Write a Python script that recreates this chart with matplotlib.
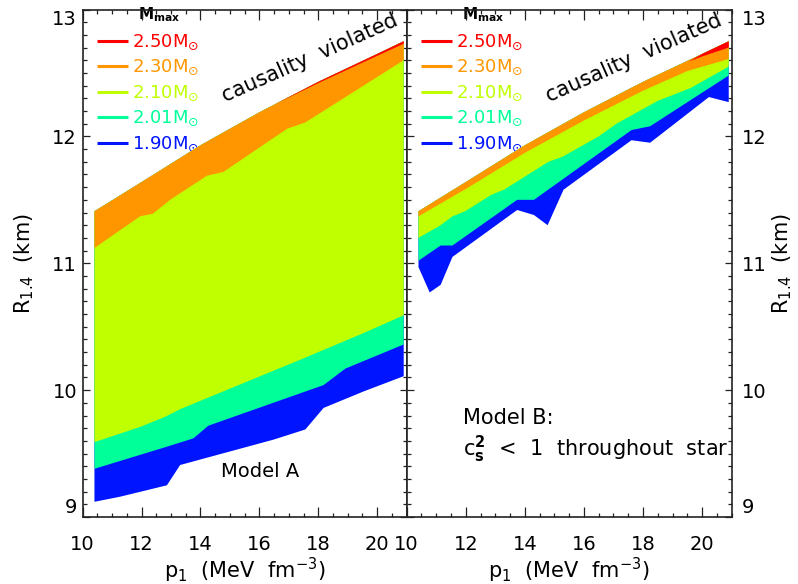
import numpy as np
import matplotlib.pyplot as plt
from matplotlib.ticker import MultipleLocator

# causality limit, top edge of every band (same in both models)
caus_p = [10.4, 12.0, 14.0, 16.0, 18.0, 20.0, 20.9]
caus_r = [11.41, 11.64, 11.93, 12.19, 12.43, 12.65, 12.75]

masses = ['2.50', '2.30', '2.10', '2.01', '1.90']
colors = ['#ff0000', '#ff9600', '#bfff00', '#00ff99', '#0014ff']

# Model A: lower edge of the allowed region for each M_max
a_p = {
    '2.50': [16.5, 18.0, 20.0, 20.9],
    '2.30': [10.4, 11.95, 12.38, 12.97, 14.22, 14.78, 16.94, 17.56, 20.9],
    '2.10': [10.4, 11.95, 12.8, 13.31, 17.39, 19.54, 20.9],
    '2.01': [10.4, 11.95, 12.8, 13.76, 14.27, 18.18, 18.92, 20.9],
    '1.90': [10.4, 11.27, 12.86, 13.31, 16.48, 17.56, 18.18, 19.54, 20.9],
}
a_r = {
    '2.50': [12.25, 12.42, 12.635, 12.73],
    '2.30': [11.12, 11.37, 11.39, 11.50, 11.69, 11.72, 12.06, 12.11, 12.60],
    '2.10': [9.59, 9.71, 9.79, 9.85, 10.24, 10.45, 10.59],
    '2.01': [9.38, 9.49, 9.55, 9.62, 9.72, 10.04, 10.17, 10.36],
    '1.90': [9.12, 9.16, 9.25, 9.41, 9.61, 9.69, 9.86, 9.99, 10.11],
}

# Model B: c_s^2 < 1 throughout the star
b_p = {
    '2.50': [19.55, 20.0, 20.9],
    '2.30': [10.4, 12.0, 14.0, 16.0, 18.0, 19.5, 20.9],
    '2.10': [10.4, 11.15, 11.55, 11.98, 12.87, 13.3, 14.8, 15.28, 16.5, 17.1, 18.5, 19.6, 20.9],
    '2.01': [10.4, 11.15, 11.55, 13.74, 14.31, 17.61, 18.24, 20.9],
    '1.90': [10.4, 10.78, 11.15, 11.55, 13.74, 14.31, 14.77, 15.31, 17.61, 18.24, 20.23, 20.9],
}
b_r = {
    '2.50': [12.59, 12.63, 12.70],
    '2.30': [11.37, 11.585, 11.87, 12.125, 12.36, 12.515, 12.61],
    '2.10': [11.20, 11.30, 11.37, 11.41, 11.54, 11.58, 11.80, 11.84, 12.00, 12.10, 12.28, 12.38, 12.55],
    '2.01': [11.02, 11.14, 11.14, 11.50, 11.50, 12.05, 12.08, 12.48],
    '1.90': [10.97, 10.77, 10.83, 11.05, 11.42, 11.38, 11.30, 11.58, 11.97, 11.95, 12.31, 12.27],
}

fs = 14
plt.rcParams['font.family'] = ['DejaVu Sans']
plt.rcParams['mathtext.fontset'] = 'dejavusans'

fig = plt.figure(figsize=(7.98, 5.84), dpi=100)
ax1 = fig.add_axes([0.1036, 0.1147, 0.4060, 0.8690])
ax2 = fig.add_axes([0.5096, 0.1147, 0.4073, 0.8690])


def draw_bands(ax, pp, rr):
    cp = np.array(caus_p)
    cr = np.array(caus_r)
    # widest band first, higher masses painted on top
    for m, c in zip(masses[::-1], colors[::-1]):
        bx = np.array(pp[m])
        by = np.array(rr[m])
        keep = (cp > bx[0]) & (cp < bx[-1] + 1e-6) | (bx[0] <= caus_p[0])
        tx = cp[keep]
        ty = cr[keep]
        xs = np.concatenate([bx, tx[::-1]])
        ys = np.concatenate([by, ty[::-1]])
        ax.fill(xs, ys, color=c, lw=0, zorder=2)


def legend_block(ax):
    ax.text(0.171, 0.989, r'$\mathbf{M}_\mathbf{max}$', transform=ax.transAxes,
            fontsize=11, ha='left', va='center', zorder=1)
    for i, (m, c) in enumerate(zip(masses, colors)):
        y = 0.9385 - i * 0.0502
        ax.plot([0.045, 0.141], [y, y], transform=ax.transAxes, color=c, lw=2.2,
                solid_capstyle='butt', zorder=1)
        ax.text(0.153, y - 0.003, m + r'$\mathregular{M}_{\odot}$', transform=ax.transAxes,
                color=c, fontsize=13, ha='left', va='center', zorder=1)


def style_axes(ax):
    ax.set_xlim(10, 21)
    ax.set_ylim(9, 13)
    ax.set_xticks([10, 12, 14, 16, 18, 20])
    ax.set_yticks([9, 10, 11, 12, 13])
    ax.xaxis.set_minor_locator(MultipleLocator(0.5))
    ax.yaxis.set_minor_locator(MultipleLocator(0.1))
    ax.tick_params(which='both', direction='in', top=True, right=True, left=True,
                   bottom=True, width=0.9, colors='#222222', labelcolor='black')
    ax.tick_params(axis='x', which='major', length=7.2, pad=13, labelsize=fs)
    ax.tick_params(axis='y', which='major', length=5, labelsize=fs)
    ax.tick_params(which='minor', length=2.9)
    for s in ax.spines.values():
        s.set_linewidth(1.2)
        s.set_color('#222222')
    ax.set_xlabel(r'p$_1$  (MeV  fm$^{-3}$)', fontsize=15)
    ax.xaxis.set_label_coords(0.5, -0.076)


draw_bands(ax1, a_p, a_r)
draw_bands(ax2, b_p, b_r)

for ax in (ax1, ax2):
    style_axes(ax)
    legend_block(ax)
    ax.text(0.70, 0.905, 'causality  violated', transform=ax.transAxes, fontsize=15,
            rotation=24, ha='center', va='center', rotation_mode='anchor', zorder=3)

ax1.tick_params(axis='y', pad=4)
ax2.tick_params(axis='y', labelleft=False, labelright=True, pad=7)

ax1.set_ylabel(r'R$_{1.4}$  (km)', fontsize=15)
ax1.yaxis.set_label_coords(-0.145, 0.5)
ax2.yaxis.set_label_position('right')
ax2.set_ylabel(r'R$_{1.4}$  (km)', fontsize=15)
ax2.yaxis.set_label_coords(1.12, 0.5)

for ax in (ax1, ax2):
    ticks = ax.yaxis.get_major_ticks()
    for lab in (ticks[0].label1, ticks[0].label2):
        lab.set_va('bottom')
    for lab in (ticks[-1].label1, ticks[-1].label2):
        lab.set_va('top')

ax1.text(0.547, 0.089, 'Model A', transform=ax1.transAxes, fontsize=fs,
         ha='center', va='center', zorder=3)
ax2.text(0.173, 0.195, 'Model B:', transform=ax2.transAxes, fontsize=15,
         ha='left', va='center', zorder=3)
ax2.text(0.173, 0.134, r'c$_\mathbf{s}^\mathbf{2}$  <  1  throughout  star', transform=ax2.transAxes,
         fontsize=15, ha='left', va='center', zorder=3, clip_on=False)

fig.savefig('out.png', dpi=100)
